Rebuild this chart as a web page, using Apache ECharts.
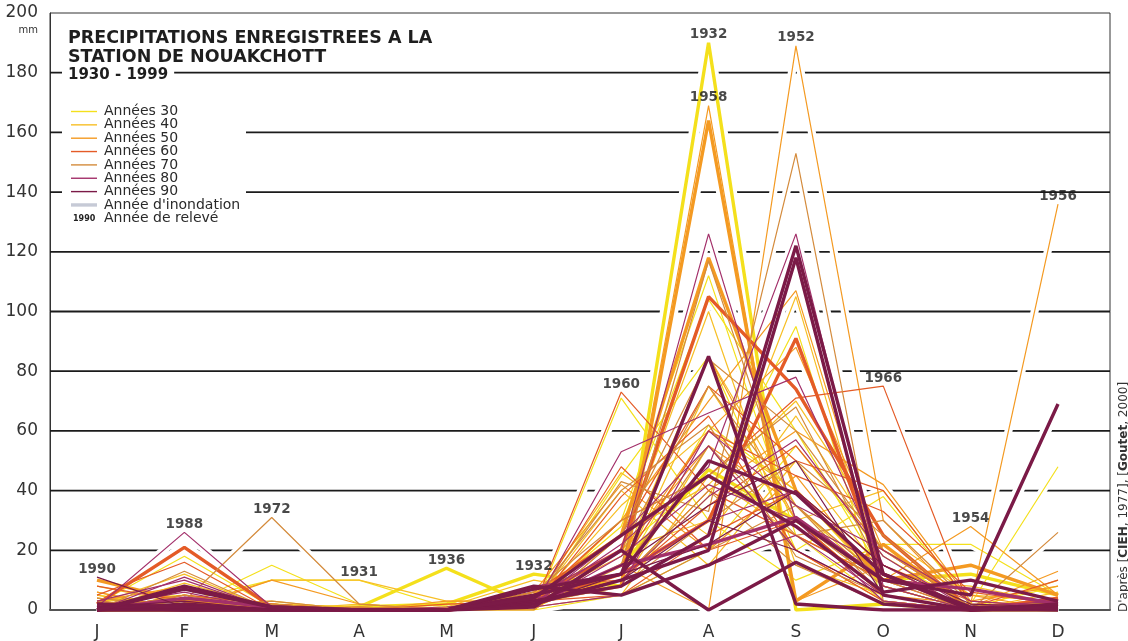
<!DOCTYPE html>
<html>
<head>
<meta charset="utf-8">
<script src="https://cdn.jsdelivr.net/npm/echarts@6/dist/echarts.min.js"></script>
<style>
  html, body { margin: 0; padding: 0; background: #fff; }
  #chart { width: 1128px; height: 641px; }
</style>
</head>
<body>
<div id="chart"></div>
<script>
// Monthly rainfall (mm) at the Nouakchott station, one row per year, J..D
const months = ['J', 'F', 'M', 'A', 'M', 'J', 'J', 'A', 'S', 'O', 'N', 'D'];

const rain1930s = [
  [0, 2, 0, 0, 0, 1, 20, 45, 30, 5, 0, 3],      // 1930
  [1, 3, 10, 10, 1, 2, 12, 62, 40, 8, 0, 1],    // 1931
  [0, 0, 0, 1, 2, 12, 8, 190, 0, 2, 0, 0],      // 1932
  [2, 18, 1, 0, 0, 1, 45, 85, 20, 38, 2, 48],   // 1933
  [5, 1, 15, 2, 0, 0, 71, 30, 10, 22, 22, 5],   // 1934
  [1, 0, 2, 1, 0, 3, 28, 104, 60, 12, 0, 1],    // 1935
  [0, 0, 0, 1, 14, 1, 15, 47, 30, 10, 12, 5],   // 1936
  [3, 5, 1, 0, 0, 2, 30, 112, 25, 3, 0, 2],     // 1937
  [0, 1, 0, 0, 1, 4, 10, 38, 95, 2, 0, 0],      // 1938
  [4, 0, 2, 0, 0, 0, 5, 20, 55, 18, 1, 8]       // 1939
];
const rain1940s = [
  [8, 2, 1, 0, 0, 2, 35, 60, 40, 15, 0, 2],     // 1940
  [2, 12, 0, 0, 1, 5, 20, 100, 15, 5, 0, 0],    // 1941
  [0, 1, 10, 10, 3, 3, 46, 25, 65, 20, 3, 1],   // 1942
  [6, 0, 0, 0, 0, 1, 15, 85, 35, 8, 0, 10],     // 1943
  [1, 4, 1, 0, 0, 0, 25, 42, 70, 25, 5, 3],     // 1944
  [0, 0, 2, 1, 0, 6, 8, 55, 20, 3, 0, 0],       // 1945
  [3, 1, 0, 0, 2, 2, 40, 15, 50, 12, 1, 4],     // 1946
  [0, 9, 1, 0, 0, 3, 12, 75, 30, 40, 2, 0],     // 1947
  [5, 0, 0, 2, 0, 0, 20, 30, 105, 5, 0, 6],     // 1948
  [1, 2, 3, 0, 1, 10, 5, 45, 25, 10, 8, 2]      // 1949
];
const rain1950s = [
  [0, 1, 0, 0, 0, 3, 8, 164, 3, 22, 0, 2],      // 1950
  [10, 3, 1, 0, 0, 5, 25, 118, 40, 10, 15, 5],  // 1951
  [2, 0, 0, 0, 0, 1, 15, 0, 189, 30, 0, 0],     // 1952
  [0, 5, 2, 0, 0, 2, 30, 70, 107, 12, 1, 13],   // 1953
  [4, 1, 0, 0, 0, 0, 20, 55, 35, 10, 28, 5],    // 1954
  [1, 0, 10, 2, 0, 4, 10, 40, 60, 42, 3, 8],    // 1955
  [0, 2, 1, 0, 0, 1, 12, 85, 30, 5, 2, 136],    // 1956
  [6, 0, 0, 0, 0, 6, 42, 20, 45, 8, 0, 1],      // 1957
  [0, 1, 0, 0, 0, 5, 10, 169, 3, 15, 0, 3],     // 1958
  [3, 8, 1, 0, 3, 3, 18, 60, 88, 20, 5, 0]      // 1959
];
const rain1960s = [
  [0, 0, 2, 0, 0, 1, 73, 40, 25, 10, 0, 1],     // 1960
  [2, 21, 1, 0, 0, 3, 12, 30, 91, 12, 0, 2],    // 1961
  [5, 16, 0, 0, 0, 2, 48, 20, 30, 5, 0, 0],     // 1962
  [0, 2, 0, 0, 0, 6, 25, 75, 50, 40, 2, 1],     // 1963
  [1, 0, 1, 0, 0, 4, 20, 105, 74, 25, 0, 4],    // 1964
  [8, 3, 0, 1, 0, 2, 15, 60, 45, 33, 6, 2],     // 1965
  [0, 1, 0, 0, 0, 3, 30, 45, 71, 75, 0, 0],     // 1966
  [3, 0, 0, 0, 0, 8, 10, 35, 55, 20, 1, 10],    // 1967
  [0, 5, 2, 0, 0, 1, 38, 65, 20, 3, 0, 0],      // 1968
  [1, 0, 0, 0, 2, 3, 5, 25, 40, 15, 3, 1]       // 1969
];
const rain1970s = [
  [0, 13, 0, 0, 0, 2, 43, 33, 153, 3, 0, 26],   // 1970
  [4, 1, 3, 0, 0, 1, 15, 117, 30, 8, 0, 2],     // 1971
  [0, 3, 31, 2, 0, 1, 20, 75, 35, 5, 0, 0],     // 1972
  [0, 0, 0, 0, 0, 3, 10, 40, 15, 2, 0, 1],      // 1973
  [2, 0, 1, 0, 0, 0, 25, 84, 60, 20, 1, 0],     // 1974
  [0, 5, 0, 1, 0, 2, 8, 30, 50, 25, 0, 3],      // 1975
  [1, 0, 0, 0, 0, 4, 40, 62, 18, 5, 0, 0],      // 1976
  [0, 2, 0, 0, 0, 1, 5, 20, 35, 10, 0, 0],      // 1977
  [3, 0, 0, 0, 0, 2, 12, 55, 25, 30, 2, 1],     // 1978
  [0, 1, 2, 0, 0, 6, 30, 45, 68, 12, 0, 2]      // 1979
];
const rain1980s = [
  [0, 11, 0, 0, 0, 1, 53, 66, 78, 15, 0, 1],    // 1980
  [2, 0, 0, 0, 0, 5, 20, 126, 30, 3, 0, 0],     // 1981
  [0, 4, 1, 0, 0, 2, 15, 22, 31, 10, 7, 2],     // 1982
  [1, 0, 0, 0, 0, 3, 10, 38, 57, 18, 0, 0],     // 1983
  [0, 2, 0, 0, 0, 1, 5, 15, 25, 5, 0, 0],       // 1984
  [3, 10, 0, 0, 0, 2, 22, 48, 126, 8, 0, 1],    // 1985
  [0, 0, 1, 0, 0, 8, 12, 30, 40, 12, 1, 3],     // 1986
  [1, 6, 0, 0, 0, 2, 25, 55, 20, 5, 0, 0],      // 1987
  [1, 26, 1, 0, 0, 1, 18, 42, 30, 15, 0, 2],    // 1988
  [0, 1, 0, 0, 1, 4, 8, 60, 35, 20, 3, 1]       // 1989
];
const rain1990s = [
  [11, 1, 0, 0, 0, 2, 15, 35, 50, 5, 0, 0],     // 1990
  [0, 8, 1, 0, 0, 7, 12, 85, 2, 0, 0, 1],       // 1991
  [1, 0, 0, 0, 0, 3, 8, 25, 122, 12, 0, 0],     // 1992
  [0, 2, 0, 0, 0, 5, 12, 50, 39, 12, 1, 0],     // 1993
  [0, 0, 0, 0, 0, 2, 10, 20, 118, 5, 0, 2],     // 1994
  [2, 1, 0, 0, 0, 8, 5, 15, 30, 10, 5, 69],     // 1995
  [0, 0, 0, 0, 0, 1, 20, 0, 16, 2, 0, 1],       // 1996
  [1, 3, 0, 0, 0, 3, 10, 30, 20, 5, 0, 0],      // 1997
  [0, 7, 1, 0, 0, 4, 25, 45, 28, 6, 10, 3],     // 1998
  [0, 0, 0, 0, 0, 2, 12, 22, 40, 15, 2, 1]      // 1999
];

const decadeRows = [rain1930s, rain1940s, rain1950s, rain1960s, rain1970s, rain1980s, rain1990s];
const decadeNames = ['Années 30', 'Années 40', 'Années 50', 'Années 60', 'Années 70', 'Années 80', 'Années 90'];
const decadeColors = ['#f4e01c', '#f7bf26', '#f49a22', '#e45b27', '#d48b3c', '#a3306a', '#7b1a47'];

// Flood years are drawn with a heavier stroke
const floodYears = [1932, 1936, 1950, 1951, 1961, 1964, 1982, 1991, 1992, 1993, 1994, 1995, 1996, 1998];

// Years written next to a notable monthly value: [year, month index]
const labelledPoints = [
  [1990, 0], [1988, 1], [1972, 2], [1931, 3], [1936, 4], [1932, 5], [1960, 6],
  [1932, 7], [1958, 7], [1952, 8], [1966, 9], [1954, 10], [1956, 11]
];

const yTicks = { min: 0, max: 200, step: 20 };
const gridValues = [20, 40, 60, 80, 100, 120, 140, 160, 180];
// month axis runs half a step beyond January and December
const xExtent = [-0.538, 11.595];

function valueOf(year, m) {
  const d = Math.floor((year - 1930) / 10);
  return decadeRows[d][year - 1930 - d * 10][m];
}

// Horizontal rules are plain series at the bottom of the stack; each rain line
// carries a white under-stroke that cuts a gap in the rules it crosses.
const ruleSeries = gridValues.map(v => ({
  type: 'line', name: 'rule' + v, silent: true, symbol: 'none', z: 1,
  data: [[xExtent[0], v], [xExtent[1], v]],
  lineStyle: { color: '#1b1b1b', width: 1.8 }
}));

const haloSeries = [];
const lineSeries = [];
decadeRows.forEach((rows, d) => {
  rows.forEach((row, k) => {
    const year = 1930 + d * 10 + k;
    const flood = floodYears.includes(year);
    haloSeries.push({
      type: 'line', data: row.map((v, i) => [i, v]), symbol: 'none', z: 2,
      lineStyle: { color: '#ffffff', width: flood ? 11 : 8 }
    });
    lineSeries.push({
      type: 'line', name: String(year), data: row.map((v, i) => [i, v]), symbol: 'none', z: 4,
      lineStyle: { color: decadeColors[d], width: flood ? 3.4 : 1.2 }
    });
  });
});

const labelSeries = {
  type: 'scatter', z: 10, symbolSize: 0, silent: true,
  data: labelledPoints.map(([y, m]) => [m, valueOf(y, m), y]),
  label: {
    show: true, position: 'top', distance: 1,
    formatter: p => p.data[2],
    fontFamily: 'DejaVu Sans', fontWeight: 'bold', fontSize: 13.5, color: '#1a1a1a'
  }
};

const font = '"DejaVu Sans", Verdana, sans-serif';
const legendY0 = 111.5, legendStep = 13.35;
const legendGraphics = [];
decadeNames.forEach((name, i) => {
  const y = legendY0 + i * legendStep;
  legendGraphics.push({ type: 'line', z: 60, shape: { x1: 71, y1: y, x2: 97, y2: y }, style: { stroke: decadeColors[i], lineWidth: 1.4 } });
  legendGraphics.push({ type: 'text', z: 60, style: { text: name, x: 104, y: y, font: '14px ' + font, fill: '#2a2a2a', verticalAlign: 'middle' } });
});
const yFlood = legendY0 + 7 * legendStep;
const yReleve = legendY0 + 8 * legendStep;
legendGraphics.push(
  { type: 'line', z: 60, shape: { x1: 71, y1: yFlood, x2: 97, y2: yFlood }, style: { stroke: '#c6cad6', lineWidth: 3.4 } },
  { type: 'text', z: 60, style: { text: "Année d'inondation", x: 104, y: yFlood, font: '14px ' + font, fill: '#2a2a2a', verticalAlign: 'middle' } },
  { type: 'text', z: 60, style: { text: '1990', x: 73, y: yReleve + 1, font: 'bold 8px ' + font, fill: '#222', verticalAlign: 'middle' } },
  { type: 'text', z: 60, style: { text: 'Année de relevé', x: 104, y: yReleve, font: '14px ' + font, fill: '#2a2a2a', verticalAlign: 'middle' } }
);

const chart = echarts.init(document.getElementById('chart'), null, { renderer: 'canvas' });
chart.setOption({
  animation: false,
  backgroundColor: '#fff',
  grid: { left: 50, right: 18, top: 13, bottom: 30, show: true, borderColor: '#333', borderWidth: 1, backgroundColor: 'transparent' },
  xAxis: {
    type: 'value', min: xExtent[0], max: xExtent[1],
    axisLine: { show: true, onZero: false, lineStyle: { color: '#555', width: 2 } },
    axisTick: { show: false },
    splitLine: { show: false },
    axisLabel: {
      customValues: months.map((_, i) => i),
      formatter: v => months[v] || '',
      fontFamily: font, fontSize: 17, color: '#333', margin: 14
    }
  },
  yAxis: {
    type: 'value', min: yTicks.min, max: yTicks.max, interval: yTicks.step,
    axisLine: { show: true, onZero: false, lineStyle: { color: '#333', width: 1 } },
    axisTick: { show: false },
    axisLabel: { fontFamily: font, fontSize: 17, color: '#333', margin: 12 },
    splitLine: { show: false }
  },
  series: [...ruleSeries, ...haloSeries, ...lineSeries, labelSeries],
  graphic: [
    { type: 'rect', z: 50, shape: { x: 62, y: 84, width: 184, height: 144 }, style: { fill: '#fff' } },
    { type: 'text', z: 60, style: { text: 'mm', x: 38, y: 30, font: '10px ' + font, fill: '#333', align: 'right', verticalAlign: 'middle' } },
    { type: 'text', z: 60, style: { text: 'PRECIPITATIONS ENREGISTREES A LA', x: 68, y: 38, font: 'bold 17.5px ' + font, fill: '#1e1e1e', verticalAlign: 'middle' } },
    { type: 'text', z: 60, style: { text: 'STATION DE NOUAKCHOTT', x: 68, y: 57, font: 'bold 17.5px ' + font, fill: '#1e1e1e', verticalAlign: 'middle' } },
    { type: 'text', z: 60, style: { text: '1930 - 1999', x: 62, y: 75, font: 'bold 15px ' + font, fill: '#1e1e1e', verticalAlign: 'middle', backgroundColor: '#fff', padding: [2, 6, 2, 6] } },
    ...legendGraphics,
    {
      type: 'text', z: 60, x: 1124, y: 612, rotation: Math.PI / 2,
      style: {
        text: "D'après [{b|CIEH}, 1977], [{b|Goutet}, 2000]",
        font: '12px ' + font, fill: '#333', align: 'left', verticalAlign: 'middle',
        rich: { b: { fontWeight: 'bold', fontFamily: font, fontSize: 12, fill: '#333' } }
      }
    }
  ]
});
</script>
</body>
</html>
